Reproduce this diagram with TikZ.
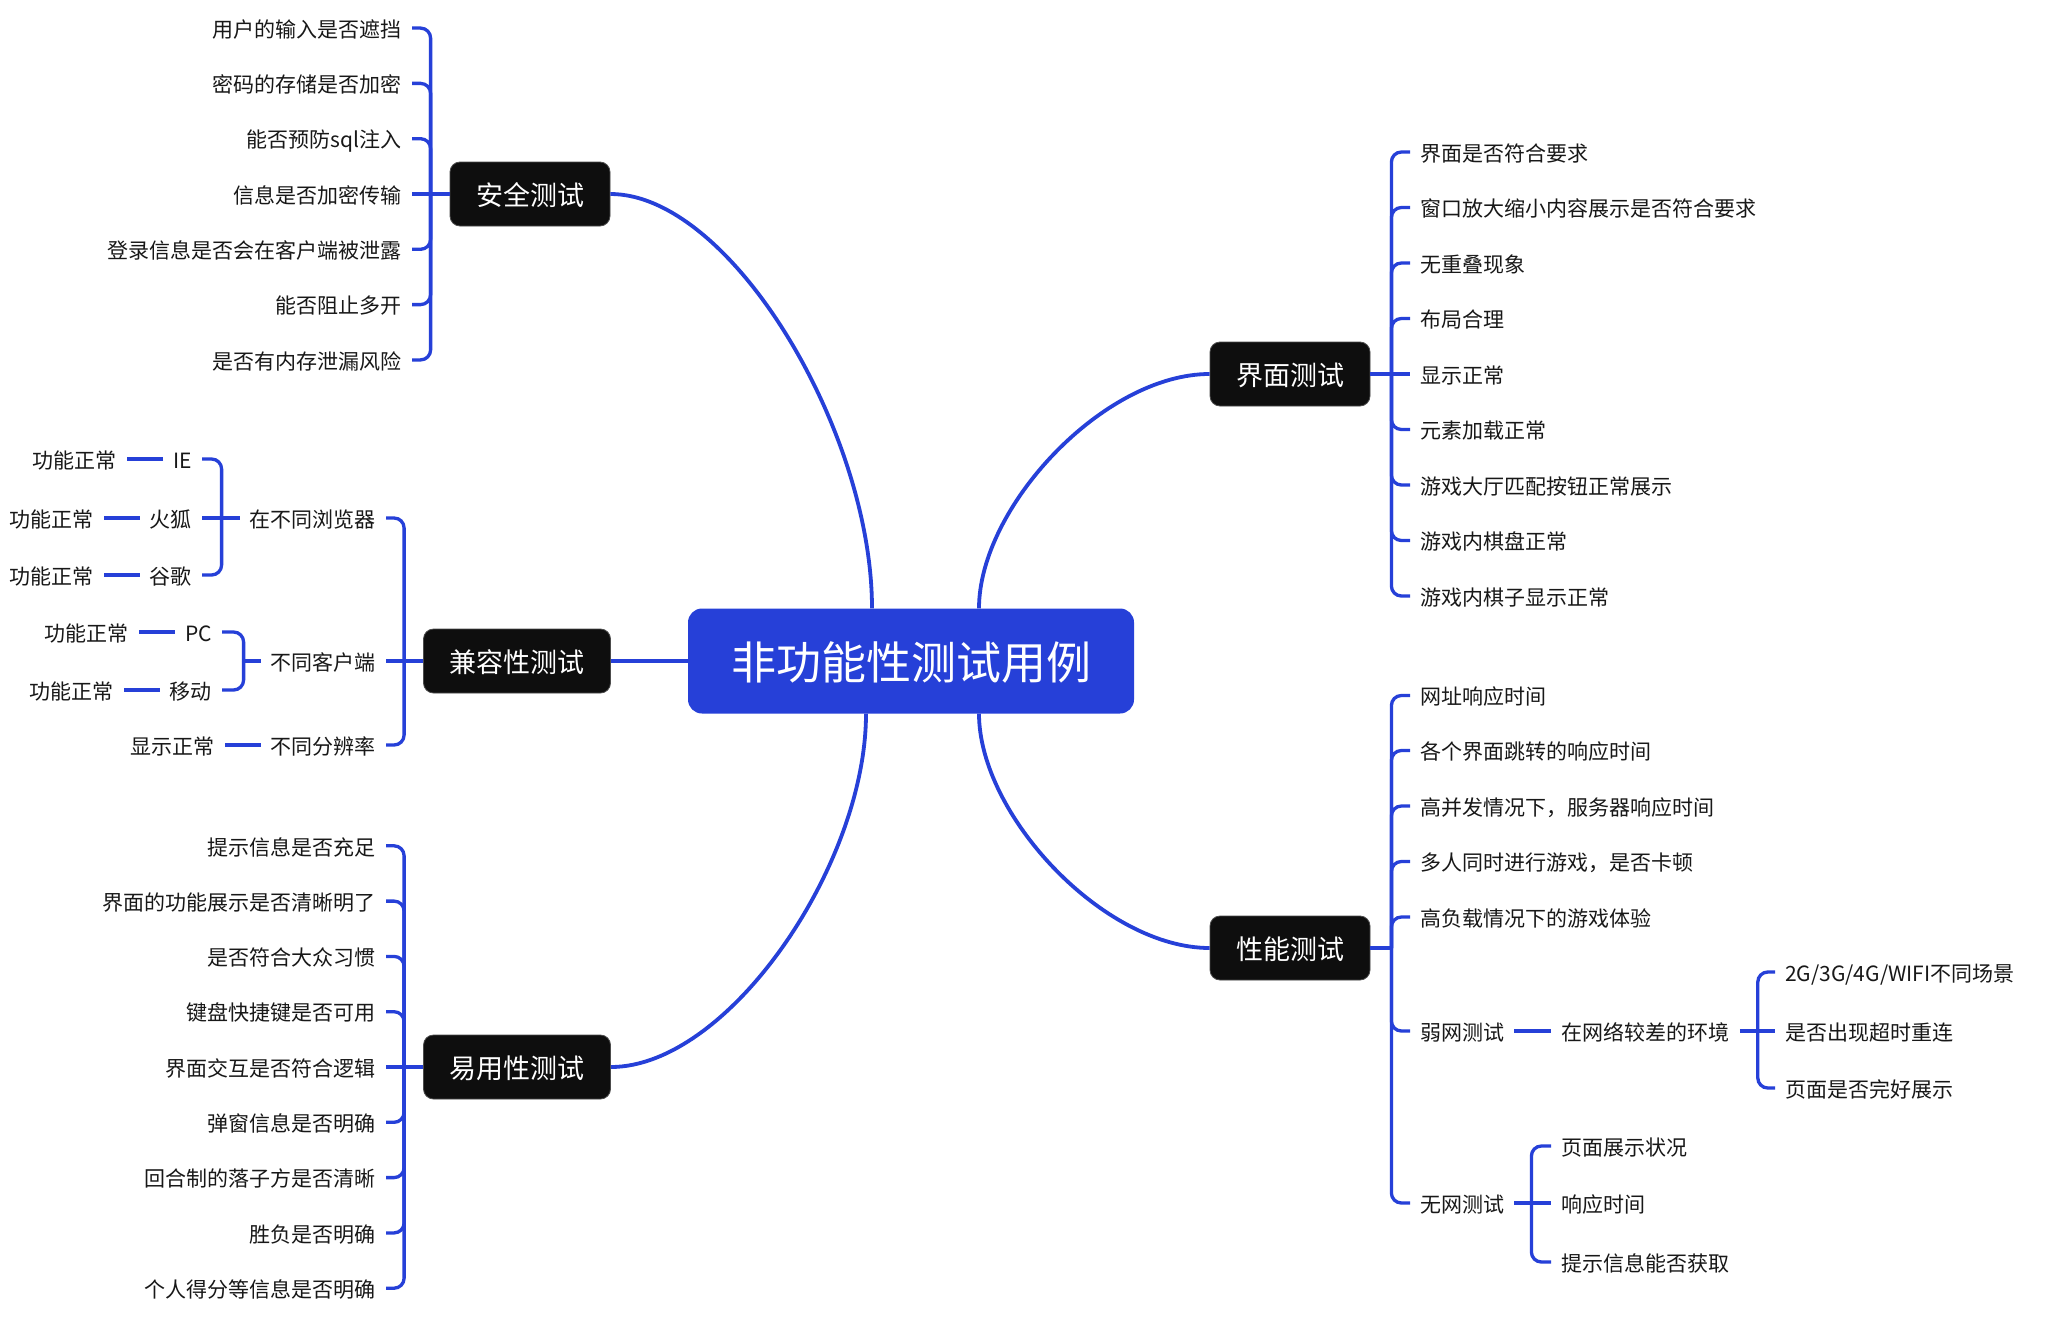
\documentclass[tikz,border=0pt]{standalone}
\usepackage{fontspec}
\setmainfont{Noto Sans CJK SC}
\usetikzlibrary{positioning,calc}
\definecolor{bl}{RGB}{38,64,216}
\definecolor{bk}{RGB}{14,14,14}
\definecolor{tx}{RGB}{24,24,24}
\begin{document}
\begin{tikzpicture}[x=1pt,y=-1pt,
  lf/.style={font=\fontsize{21}{25}\selectfont, text=tx, inner xsep=10pt, inner ysep=0pt, text height=18.6pt, text depth=0.2pt},
  lfl/.style={lf, anchor=east},
  lfr/.style={lf, anchor=west},
  sec/.style={fill=bk, draw=black!70, line width=0.8pt, text=white, rounded corners=10pt, font=\fontsize{27}{32}\selectfont, minimum height=64pt, inner xsep=26pt, inner ysep=0pt, text height=22.6pt, text depth=0.6pt},
  rootbox/.style={fill=bl, text=white, rounded corners=14pt, font=\fontsize{45}{54}\selectfont, minimum width=446pt, minimum height=105pt, text height=37.5pt, text depth=1pt},
  br/.style={draw=bl, line width=3.3pt, rounded corners=10pt},
  trunk/.style={draw=bl, line width=3.8pt},
]
\useasboundingbox[fill=white] (0,0) rectangle (2046,1322);

% main nodes
\node[rootbox] (root) at (911,661) {非功能性测试用例};
\node[sec] (sA) at (530,194) {安全测试};
\node[sec] (sB) at (517,661) {兼容性测试};
\node[sec] (sC) at (517,1067) {易用性测试};
\node[sec] (sD) at (1290,374) {界面测试};
\node[sec] (sE) at (1290,948) {性能测试};

% trunks
\draw[trunk] ($(root.north)+(-39,0)$) .. controls +(0,-178) and +(120,0) .. (sA.east);
\draw[trunk] ($(root.north)+(68,0)$) .. controls +(0,-101) and +(-106,0) .. (sD.west);
\draw[trunk] ($(root.south)+(68,0)$) .. controls +(0,101) and +(-106,0) .. (sE.west);
\draw[trunk] ($(root.south)+(-45,0)$) .. controls +(0,152) and +(117,0) .. (sC.east);
\draw[trunk] (root.west) -- (sB.east);

% A: security
\foreach \t [count=\i] in {用户的输入是否遮挡, 密码的存储是否加密, 能否预防sql注入, 信息是否加密传输, 登录信息是否会在客户端被泄露, 能否阻止多开, 是否有内存泄漏风险}
  \node[lfl] (a\i) at (412, {194+(\i-4)*55.3}) {\t};
\coordinate (jA) at ($(sA.west)+(-19,0)$);
\draw[br] (sA.west) -- (a4.east);
\foreach \i in {1,2,3,5,6,7} \draw[br] (jA) |- (a\i.east);

% B: compatibility
\node[lfl] (b1) at (386,518) {在不同浏览器};
\node[lfl] (b2) at (386,661) {不同客户端};
\node[lfl] (b3) at (386,745) {不同分辨率};
\coordinate (jB) at ($(sB.west)+(-19,0)$);
\draw[br] (sB.west) -- (b2.east);
\draw[br] (jB) |- (b1.east);
\draw[br] (jB) |- (b3.east);

\node[lfl] (ie) at (202,459) {IE};
\node[lfl] (ff) at (202,518) {火狐};
\node[lfl] (gg) at (202,575) {谷歌};
\coordinate (jB1) at ($(b1.west)+(-18,0)$);
\draw[br] (b1.west) -- (ff.east);
\draw[br] (jB1) |- (ie.east);
\draw[br] (jB1) |- (gg.east);
\node[lfl, left=36pt of ie] (ie2) {功能正常};
\node[lfl, left=36pt of ff] (ff2) {功能正常};
\node[lfl, left=36pt of gg] (gg2) {功能正常};
\draw[br] (ie.west) -- (ie2.east);
\draw[br] (ff.west) -- (ff2.east);
\draw[br] (gg.west) -- (gg2.east);

\node[lfl] (pc) at (222,632) {PC};
\node[lfl] (mv) at (222,690) {移动};
\coordinate (jB2) at ($(b2.west)+(-17,0)$);
\draw[br] (b2.west) -- (jB2);
\draw[br] (jB2) |- (pc.east);
\draw[br] (jB2) |- (mv.east);
\node[lfl, left=36pt of pc] (pc2) {功能正常};
\node[lfl, left=36pt of mv] (mv2) {功能正常};
\draw[br] (pc.west) -- (pc2.east);
\draw[br] (mv.west) -- (mv2.east);

\node[lfl, left=36pt of b3] (xs) {显示正常};
\draw[br] (b3.west) -- (xs.east);

% C: usability
\foreach \t [count=\i] in {提示信息是否充足, 界面的功能展示是否清晰明了, 是否符合大众习惯, 键盘快捷键是否可用, 界面交互是否符合逻辑, 弹窗信息是否明确, 回合制的落子方是否清晰, 胜负是否明确, 个人得分等信息是否明确}
  \node[lfl] (c\i) at (386, {1067+(\i-5)*55.3}) {\t};
\coordinate (jC) at ($(sC.west)+(-19,0)$);
\draw[br] (sC.west) -- (c5.east);
\foreach \i in {1,2,3,4,6,7,8,9} \draw[br] (jC) |- (c\i.east);

% D: interface
\foreach \t [count=\i] in {界面是否符合要求, 窗口放大缩小内容展示是否符合要求, 无重叠现象, 布局合理, 显示正常, 元素加载正常, 游戏大厅匹配按钮正常展示, 游戏内棋盘正常, 游戏内棋子显示正常}
  \node[lfr] (d\i) at (1410, {374+(\i-5)*55.5}) {\t};
\coordinate (jD) at ($(sD.east)+(21,0)$);
\draw[br] (sD.east) -- (d5.west);
\foreach \i in {1,2,3,4,6,7,8,9} \draw[br] (jD) |- (d\i.west);

% E: performance
\node[lfr] (e1) at (1410,695.5) {网址响应时间};
\node[lfr] (e2) at (1410,750.5) {各个界面跳转的响应时间};
\node[lfr] (e3) at (1410,806) {高并发情况下，服务器响应时间};
\node[lfr] (e4) at (1410,861.5) {多人同时进行游戏，是否卡顿};
\node[lfr] (e5) at (1410,917) {高负载情况下的游戏体验};
\node[lfr] (e6) at (1410,1031) {弱网测试};
\node[lfr] (e7) at (1410,1203) {无网测试};
\coordinate (jE) at ($(sE.east)+(21,0)$);
\draw[br] (sE.east) -- (jE);
\foreach \i in {1,...,7} \draw[br] (jE) |- (e\i.west);

\node[lfr, right=37pt of e6] (env) {在网络较差的环境};
\draw[br] (e6.east) -- (env.west);
\node[lfr] (w1) at (1775,972) {2G/3G/4G/WIFI不同场景};
\node[lfr] (w2) at (1775,1031) {是否出现超时重连};
\node[lfr] (w3) at (1775,1088) {页面是否完好展示};
\coordinate (jW) at ($(env.east)+(18,0)$);
\draw[br] (env.east) -- (w2.west);
\draw[br] (jW) |- (w1.west);
\draw[br] (jW) |- (w3.west);

\node[lfr] (n1) at (1551,1146) {页面展示状况};
\node[lfr] (n2) at (1551,1203) {响应时间};
\node[lfr] (n3) at (1551,1262) {提示信息能否获取};
\coordinate (jN) at ($(e7.east)+(17,0)$);
\draw[br] (e7.east) -- (n2.west);
\draw[br] (jN) |- (n1.west);
\draw[br] (jN) |- (n3.west);
\end{tikzpicture}
\end{document}
